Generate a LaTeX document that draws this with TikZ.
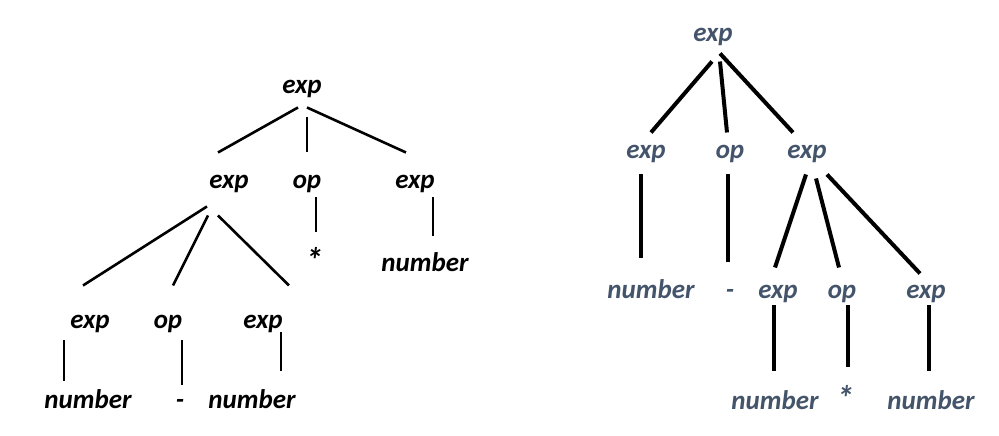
\documentclass[tikz,border=0pt]{standalone}
\usepackage{fontspec}
\setmainfont{Carlito}
\usetikzlibrary{calc}
\definecolor{slate}{HTML}{44546A}
\tikzset{
  lbl/.style={anchor=base, inner sep=0pt, font=\fontsize{27}{31}\selectfont\bfseries\itshape},
  ltxt/.style={lbl, text=black},
  rtxt/.style={lbl, text=slate},
  lline/.style={draw=black, line width=2.6pt},
  rline/.style={draw=black, line width=4pt},
}
\begin{document}
\begin{tikzpicture}[x=1pt,y=-1pt]
\useasboundingbox (0,0) rectangle (999,436);
% ---------- left tree ----------
\node[ltxt] (L0)  at (302,94)  {exp};
\node[ltxt] (L1a) at (229,188) {exp};
\node[ltxt] (L1b) at (307,188) {op};
\node[ltxt] (L1c) at (415,188) {exp};
\node[ltxt] (Lst) at (314,272) {\scalebox{1.3}{*}};
\node[ltxt] (Lnu) at (425,271) {number};
\node[ltxt] (L2a) at (90,328)  {exp};
\node[ltxt] (L2b) at (168,328) {op};
\node[ltxt] (L2c) at (263,328) {exp};
\node[ltxt] (L3a) at (88,408)  {number};
\node[ltxt] (L3b) at (180,408) {-};
\node[ltxt] (L3c) at (252,408) {number};
\draw[lline] ($(L0)+(-4,18)$) -- ($(L1a)+(-11,-31)$);
\draw[lline] ($(L0)+(5,28)$) -- ($(L1b)+(0,-31)$);
\draw[lline] ($(L0)+(5,18)$) -- ($(L1c)+(-9,-31)$);
\draw[lline] ($(L1a)+(-22,23)$) -- ($(L2a)+(-7,-38)$);
\draw[lline] ($(L1a)+(-21,32)$) -- ($(L2b)+(5,-38)$);
\draw[lline] ($(L1a)+(-11,32)$) -- ($(L2c)+(26,-38)$);
\draw[lline] ($(L1b)+(9,14)$) -- ($(Lst)+(2,-27)$);
\draw[lline] ($(L1c)+(18,14)$) -- ($(Lnu)+(8,-26)$);
\draw[lline] ($(L2a)+(-26,17)$) -- ($(L3a)+(-24,-18)$);
\draw[lline] ($(L2b)+(14,17)$) -- ($(L3b)+(2,-18)$);
\draw[lline] ($(L2c)+(18,9)$) -- ($(L3c)+(29,-28)$);
% ---------- right tree ----------
\node[rtxt] (R0)  at (713,42)  {exp};
\node[rtxt] (R1a) at (646,158) {exp};
\node[rtxt] (R1b) at (730,158) {op};
\node[rtxt] (R1c) at (807,158) {exp};
\node[rtxt] (R2a) at (651,298) {number};
\node[rtxt] (R2b) at (730,298) {-};
\node[rtxt] (R2c) at (778,298) {exp};
\node[rtxt] (R2d) at (842,298) {op};
\node[rtxt] (R2e) at (926,298) {exp};
\node[rtxt] (R3a) at (775,409) {number};
\node[rtxt] (R3b) at (845,410) {\scalebox{1.3}{*}};
\node[rtxt] (R3c) at (931,409) {number};
\draw[rline] ($(R0)+(-1,24)$) -- ($(R1a)+(5,-21)$);
\draw[rline] ($(R0)+(7,24)$) -- ($(R1b)+(-3,-21)$);
\draw[rline] ($(R0)+(7,16)$) -- ($(R1c)+(-14,-21)$);
\draw[rline] ($(R1a)+(-5,21)$) -- ($(R2a)+(-10,-31)$);
\draw[rline] ($(R1b)+(-2,21)$) -- ($(R2b)+(-2,-31)$);
\draw[rline] ($(R1c)+(-1,21)$) -- ($(R2c)+(-3,-26)$);
\draw[rline] ($(R1c)+(9,25)$) -- ($(R2d)+(-3,-26)$);
\draw[rline] ($(R1c)+(20,21)$) -- ($(R2e)+(-6,-20)$);
\draw[rline] ($(R2c)+(-4,12)$) -- ($(R3a)+(-1,-29)$);
\draw[rline] ($(R2d)+(6,12)$) -- ($(R3b)+(3,-30)$);
\draw[rline] ($(R2e)+(3,12)$) -- ($(R3c)+(-2,-29)$);
\end{tikzpicture}
\end{document}
